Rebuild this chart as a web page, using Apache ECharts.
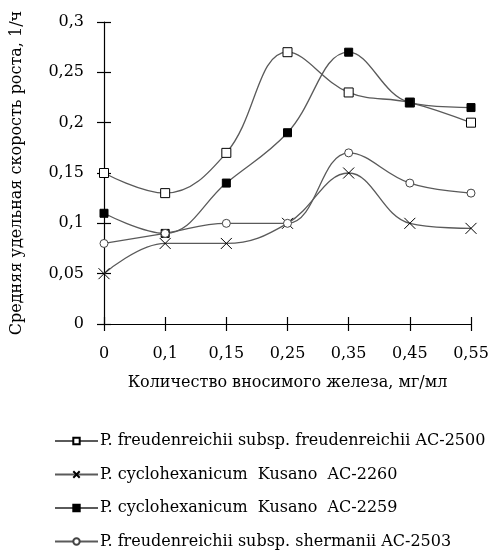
<!DOCTYPE html>
<html>
<head>
<meta charset="utf-8">
<script src="https://cdn.jsdelivr.net/npm/echarts@6/dist/echarts.min.js"></script>
<style>
  html, body { margin: 0; padding: 0; background: #fff; }
  #chart { width: 489px; height: 552px; }
</style>
</head>
<body>
<div id="chart"></div>
<script>
// Iron dose, mg/ml
const ironDose = ['0', '0,1', '0,15', '0,25', '0,35', '0,45', '0,55'];

// Mean specific growth rate, 1/h
const freudenreichii2500 = [0.15, 0.13, 0.17, 0.27, 0.23, 0.22, 0.20];
const cyclohexanicum2260 = [0.05, 0.08, 0.08, 0.10, 0.15, 0.10, 0.095];
const cyclohexanicum2259 = [0.11, 0.09, 0.14, 0.19, 0.27, 0.22, 0.215];
const shermanii2503 = [0.08, 0.09, 0.10, 0.10, 0.17, 0.14, 0.13];

const seriesNames = [
  'P. freudenreichii subsp. freudenreichii AC-2500',
  'P. cyclohexanicum  Kusano  AC-2260',
  'P. cyclohexanicum  Kusano  AC-2259',
  'P. freudenreichii subsp. shermanii AC-2503'
];

const yTicks = { min: 0, max: 0.3, interval: 0.05 };

const FONT = 'DejaVu Serif';
const FS = 16;
const LINE = '#5a5a5a';
const crossPath = 'path://M0,0L10,10M10,0L0,10';

const chart = echarts.init(document.getElementById('chart'), null, { renderer: 'canvas' });

const fmtY = v => String(+v.toFixed(2)).replace('.', ',');

function lineSeries(name, data, symbol, size, fill, border) {
  return {
    name: name,
    type: 'line',
    data: data,
    xAxisIndex: 0,
    yAxisIndex: 0,
    smooth: 0.4,
    symbol: symbol,
    symbolSize: size,
    showAllSymbol: true,
    lineStyle: { color: LINE, width: 1.3 },
    itemStyle: { color: fill, borderColor: border, borderWidth: 1 },
    emphasis: { disabled: true },
    animation: false
  };
}

chart.setOption({
  backgroundColor: '#fff',
  textStyle: { fontFamily: FONT, color: '#000' },
  grid: { left: 104, right: 18, top: 22, bottom: 228, containLabel: false, outerBoundsMode: 'none' },
  xAxis: [
    {
      type: 'category',
      data: ironDose,
      boundaryGap: false,
      name: 'Количество вносимого железа, мг/мл',
      nameLocation: 'middle',
      nameGap: 51,
      nameTextStyle: { fontFamily: FONT, fontSize: FS, color: '#000' },
      axisLine: { lineStyle: { color: '#000', width: 1.2 } },
      axisTick: { show: true, inside: false, length: 7, alignWithLabel: true, lineStyle: { color: '#000', width: 1.2 } },
      axisLabel: { fontFamily: FONT, fontSize: FS, color: '#000', margin: 22 },
      splitLine: { show: false }
    },
    {
      type: 'category',
      data: ironDose,
      boundaryGap: false,
      position: 'bottom',
      axisLine: { show: false },
      axisTick: { show: true, inside: true, length: 7, lineStyle: { color: '#000', width: 1.2 } },
      axisLabel: { show: false },
      splitLine: { show: false }
    }
  ],
  yAxis: [
    {
      type: 'value',
      min: yTicks.min,
      max: yTicks.max,
      interval: yTicks.interval,
      name: 'Средняя удельная скорость роста, 1/ч',
      nameLocation: 'middle',
      nameGap: 79,
      nameTextStyle: { fontFamily: FONT, fontSize: FS, color: '#000' },
      axisLine: { show: true, lineStyle: { color: '#000', width: 1.2 } },
      axisTick: { show: true, inside: false, length: 7, lineStyle: { color: '#000', width: 1.2 } },
      axisLabel: { fontFamily: FONT, fontSize: FS, color: '#000', margin: 20, formatter: fmtY },
      splitLine: { show: false }
    },
    {
      type: 'value',
      min: yTicks.min,
      max: yTicks.max,
      interval: yTicks.interval,
      position: 'left',
      axisLine: { show: false },
      axisTick: { show: true, inside: true, length: 7, lineStyle: { color: '#000', width: 1.2 } },
      axisLabel: { show: false },
      splitLine: { show: false }
    }
  ],
  legend: {
    orient: 'vertical',
    left: 54,
    top: 433,
    padding: 0,
    itemWidth: 43,
    itemHeight: 8,
    itemGap: 17.5,
    data: seriesNames,
    textStyle: { fontFamily: FONT, fontSize: FS, color: '#000', padding: [0, 0, 0, -3] },
    selectedMode: false
  },
  series: [
    lineSeries(seriesNames[0], freudenreichii2500, 'rect', 9, '#fff', '#000'),
    lineSeries(seriesNames[1], cyclohexanicum2260, crossPath, 11, 'none', '#000'),
    lineSeries(seriesNames[2], cyclohexanicum2259, 'rect', 8, '#000', '#000'),
    lineSeries(seriesNames[3], shermanii2503, 'circle', 8, '#fff', '#444')
  ]
});
</script>
</body>
</html>
